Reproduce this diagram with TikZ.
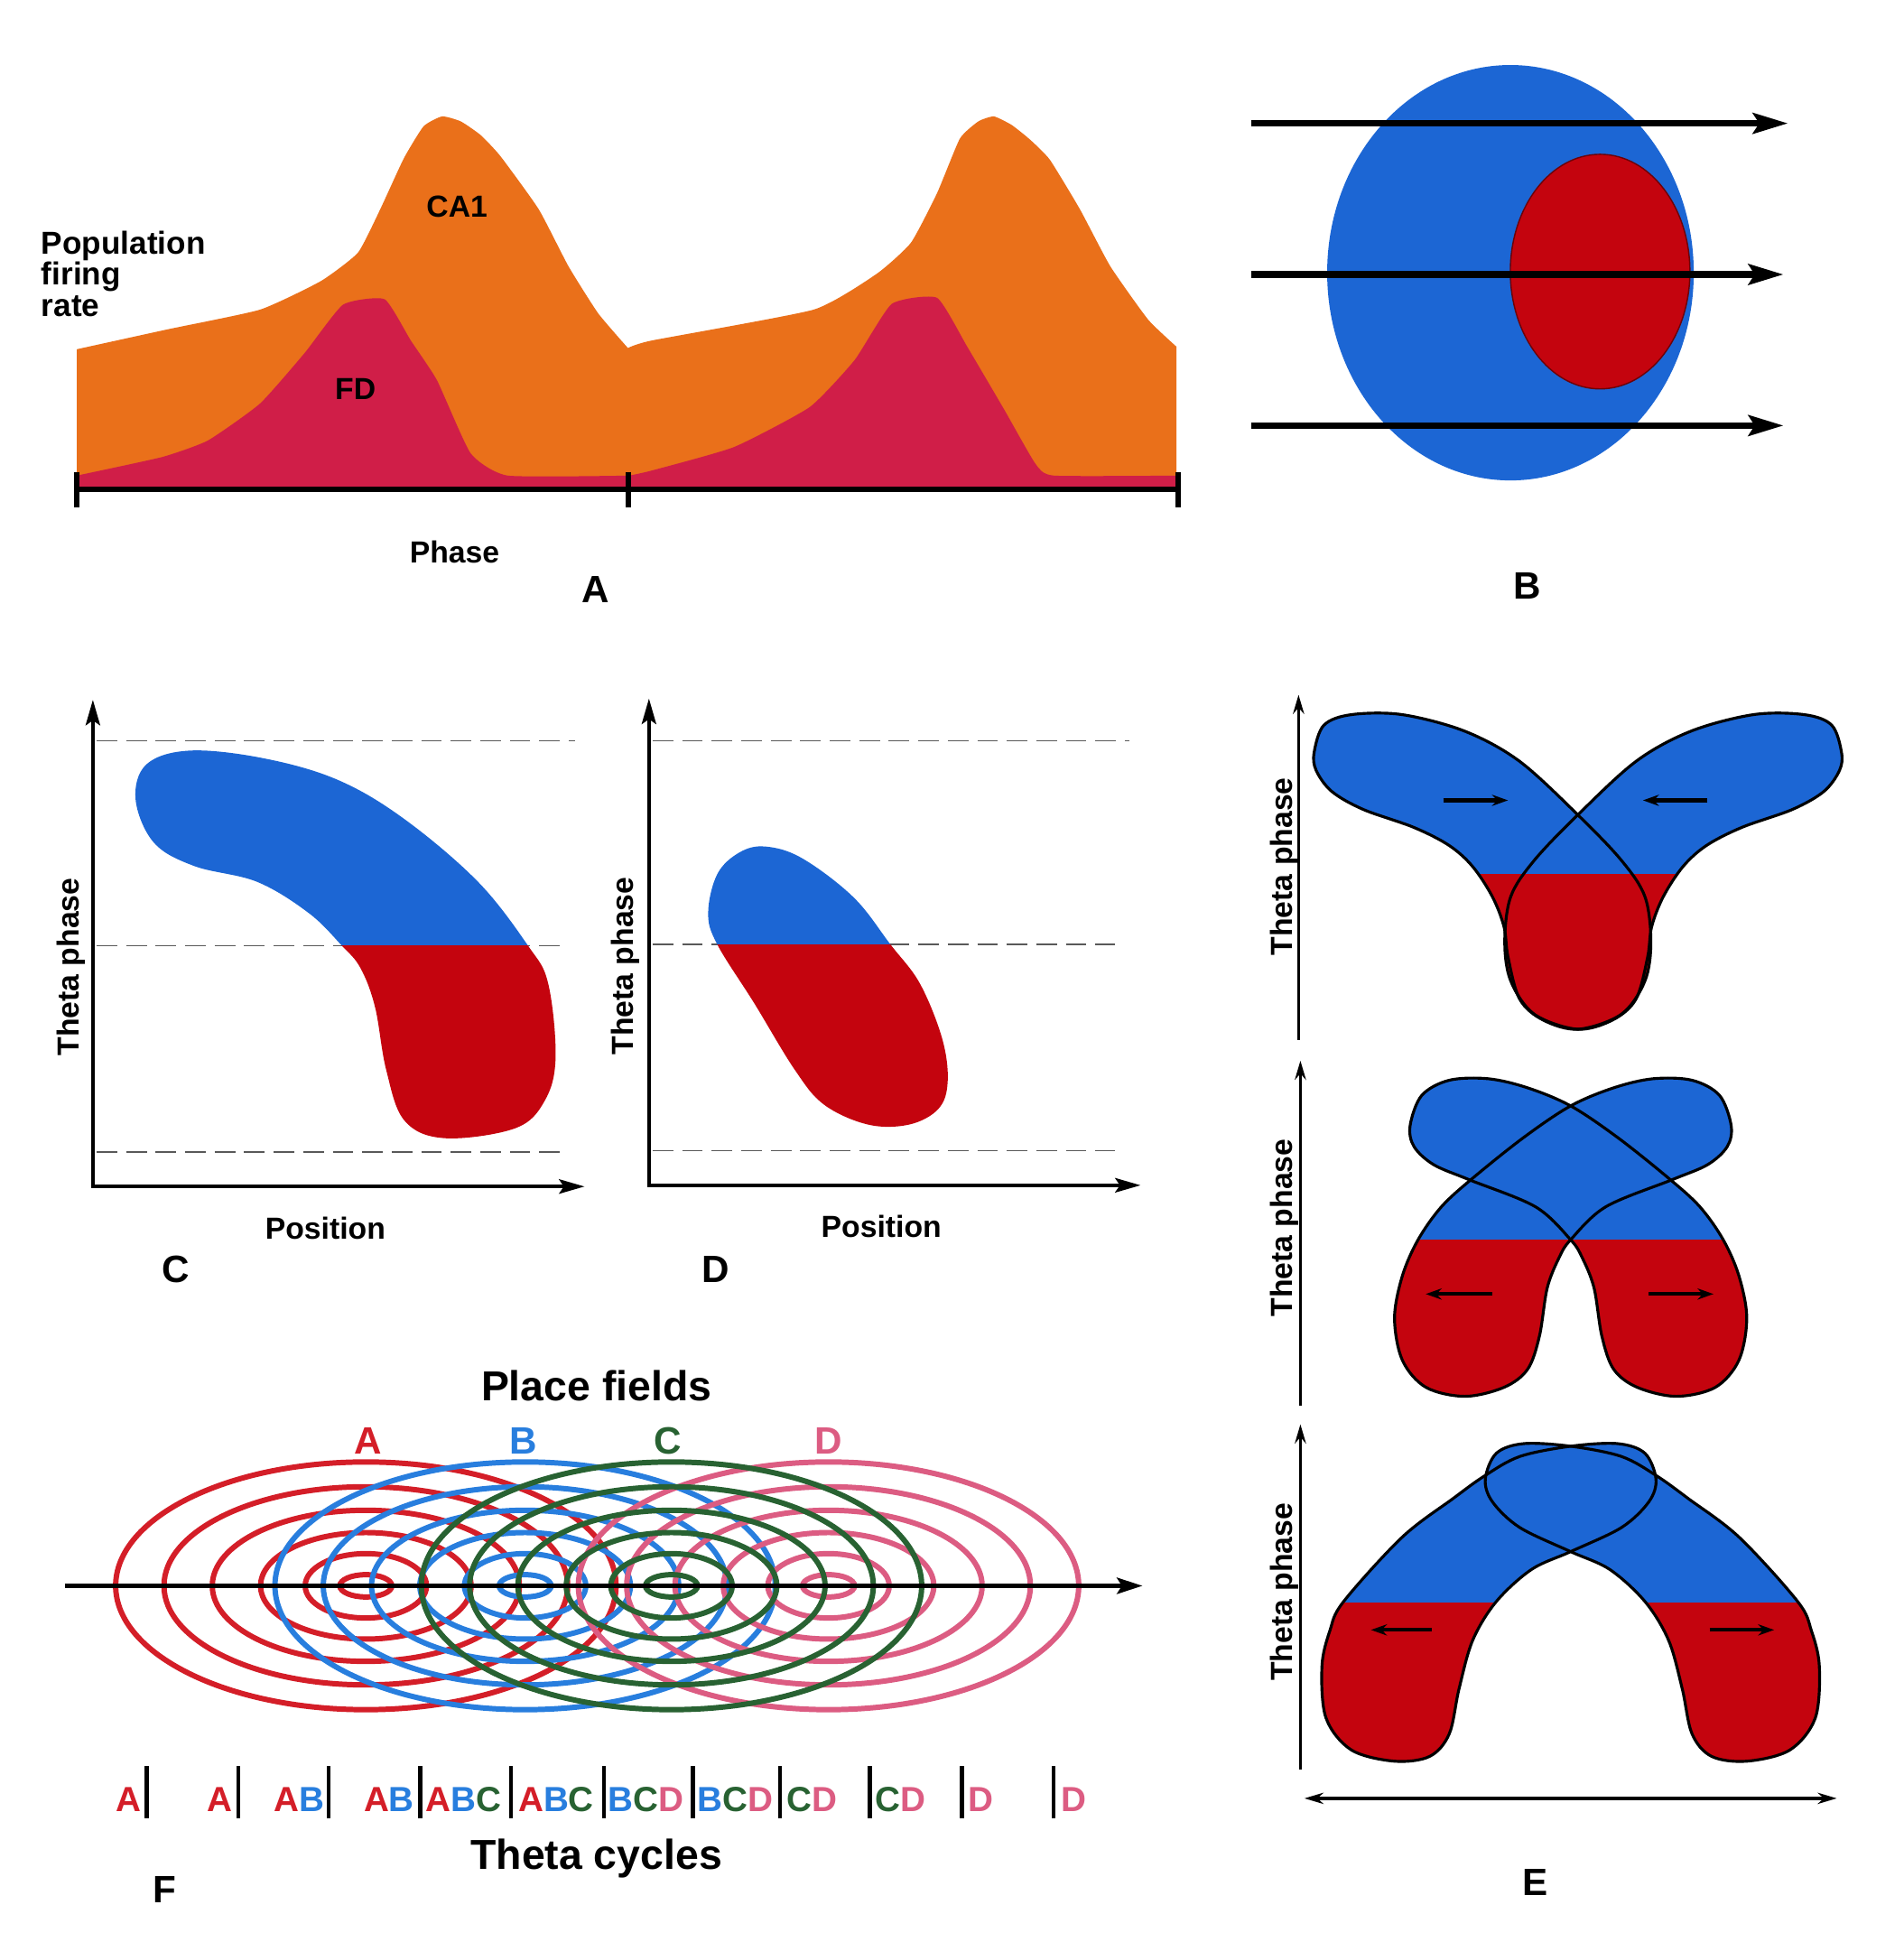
\documentclass[tikz,border=0pt]{standalone}
\usepackage{fontspec}
\setmainfont{Liberation Sans}
\usetikzlibrary{arrows.meta}
\definecolor{caorange}{RGB}{234,112,26}
\definecolor{fdred}{RGB}{208,30,72}
\definecolor{pblue}{RGB}{28,102,212}
\definecolor{pred}{RGB}{196,4,14}
\definecolor{fa}{RGB}{212,30,40}
\definecolor{fb}{RGB}{40,126,222}
\definecolor{fc}{RGB}{40,98,50}
\definecolor{fdp}{RGB}{220,92,130}
\tikzset{
 lbl/.style={font=\fontsize{9.6}{11}\selectfont\bfseries, inner sep=0pt},
 panel/.style={font=\fontsize{12}{14}\selectfont\bfseries, inner sep=0pt},
 big/.style={font=\fontsize{13.2}{15}\selectfont\bfseries, inner sep=0pt},
 cyc/.style={font=\fontsize{11}{13}\selectfont\bfseries, inner sep=0pt},
 axisarrow/.style={line width=1.2pt, -{Stealth[length=8pt,width=4.5pt,inset=1.5pt]}},
 eaxis/.style={line width=1pt, -{Stealth[length=6pt,width=3.5pt]}},
 smallarrow/.style={line width=1.2pt, -{Stealth[length=5pt,width=3.5pt]}},
 trackarrow/.style={line width=2pt, -{Stealth[length=11pt,width=6.5pt,inset=2pt]}},
 dashline/.style={gray!70!black, line width=0.45pt, dash pattern=on 6.5pt off 2.8pt},
 blobline/.style={draw=black, line width=0.9pt},
 ring/.style={line width=1.7pt},
}
\newcommand{\blobC}{plot[smooth cycle, tension=0.6] coordinates {(109.5,645.6)(118.4,617)(154,606)(213.6,612.4)(273,629.8)(326.6,661.4)(386,712)(426.3,763.5)(442.6,794)(448.6,854)(439.7,889)(415.9,911)(359.3,919)(326.6,904.8)(311.8,863.7)(302.8,813)(291,781.5)(276,763.5)(249.3,737.2)(207.6,712)(157,699.3)(124.3,680.4)}}
\newcommand{\blobD}{plot[smooth cycle, tension=0.6] coordinates {(571.8,737.2)(579.2,705.7)(597,688.3)(618,683.5)(647.7,693)(689.3,724.6)(719,762.6)(742.8,794.2)(760.7,838.4)(765.2,873.2)(757.7,895.3)(734,908)(701,908)(665.5,892)(641.7,863.7)(609,810)(579.2,762.6)}}
\newcommand{\blobEa}{plot[smooth cycle, tension=0.55] coordinates {(1061.1,607.4)(1069,585.5)(1091.2,577)(1132.2,577)(1182.8,590.4)(1227,614.7)(1274.5,658.4)(1309.3,694.8)(1328.2,724)(1333,760.5)(1328.2,792)(1309.3,818.8)(1274.5,831)(1246,823.6)(1227,806.6)(1217.6,772.6)(1214.4,748.3)(1205,724)(1189.1,699.7)(1170.2,682.7)(1141.7,668.1)(1100.6,653.5)(1075.3,639)(1062.7,622)}}
\newcommand{\blobEb}{plot[smooth cycle, tension=0.55] coordinates {(1138.6,908.7)(1148,884.4)(1170.2,872.2)(1201.8,871)(1233.4,878.3)(1268.2,892.9)(1306.1,918.4)(1347.2,951.2)(1372.5,974.3)(1391.4,1001)(1404.1,1030.2)(1410.4,1064.2)(1404.1,1098.2)(1385.1,1120.1)(1353.5,1127.4)(1321.9,1120.1)(1302.9,1105.5)(1293.4,1078.8)(1287.1,1039.9)(1277.6,1015.6)(1268.2,1001)(1239.7,974.3)(1186,952.4)(1157.5,940.3)(1141.7,925.7)}}
\newcommand{\blobEc}{plot[smooth cycle, tension=0.55] coordinates {(1084.8,1293.2)(1132.2,1241.1)(1173.3,1209.9)(1198.6,1191.7)(1227.1,1176)(1268.2,1167.7)(1306.1,1165.6)(1328.2,1173.4)(1337.1,1194.3)(1331.4,1212.5)(1309.3,1233.3)(1268.2,1252.8)(1236.6,1267.2)(1208.1,1293.2)(1189.1,1324.4)(1178.1,1363.5)(1170.2,1399.9)(1154.4,1418.1)(1125.9,1422)(1091.1,1412.9)(1070.6,1386.9)(1067.4,1345.2)(1073.8,1316.6)}}
\begin{document}
\begin{tikzpicture}[x=0.013722cm, y=-0.013722cm]
\useasboundingbox (0,0) rectangle (1537,1568);
\fill[white] (0,0) rectangle (1537,1568);

% ---------- Panel A ----------
\fill[caorange] (62,395) -- (62,282) -- plot[smooth,tension=0.3] coordinates {(62,282)(135,266)(210,250)(259,227)(289,204)(307,169)(326,128)(342,102)(357,94)(372,98)(388,109)(404,126)(435,169)(459,215)(483,253)(507,281)} -- plot[smooth,tension=0.3] coordinates {(507,281)(526,275)(657,250)(708,221)(735.5,196)(756.6,156)(775,112)(790,98)(802.5,94)(817,101)(832,113)(847.7,129)(872,169)(896.5,215)(927,258)(950,280)} -- (950,395) -- cycle;
\fill[fdred] (62,395) -- plot[smooth,tension=0.3] coordinates {(62,384)(131,369)(168,355.6)(210,325.8)(246,285)(277,246)(310.5,241.6)(331.6,274.8)(352.8,307)(380,366)(410,384)(508,384)} -- plot[smooth,tension=0.3] coordinates {(508,384)(526,380)(592.6,361)(653.8,328.7)(690,290.8)(720,245.4)(756.6,240.5)(781,280)(811,331)(836,374.4)(851,384)(950,384)} -- (950,395) -- cycle;
\coordinate (a0) at (62,395);
\coordinate (a2) at (951,395);
\draw[line width=1.6pt] (a0) -- (a2);
\draw[line width=1.7pt] (62,381) -- (62,410);
\draw[line width=1.7pt] (507,381) -- (507,410);
\draw[line width=1.7pt] (951,381) -- (951,410);
\node[font=\fontsize{10}{9.8}\selectfont\bfseries, inner sep=0pt, align=left, anchor=north west] (poprate) at (33,186) {Population\\firing\\rate};
\node[lbl] (ca1) at (369,167) {CA1};
\node[lbl] (fd) at (287,314) {FD};
\node[lbl] (phase) at (367,446) {Phase};
\node[panel] (labA) at (481,476) {A};

% ---------- Panel B ----------
\fill[pblue] (1219.6,220.2) ellipse [x radius=148, y radius=167.7];
\filldraw[fill=pred, draw=pred!55!black, line width=0.4pt] (1292,219.3) ellipse [x radius=72.5, y radius=94.7];
\coordinate (b1s) at (1010,99.6);  \coordinate (b1e) at (1443.6,99.6);
\coordinate (b2s) at (1010,221.6); \coordinate (b2e) at (1440,221.6);
\coordinate (b3s) at (1010,343.6); \coordinate (b3e) at (1440,343.6);
\draw[trackarrow] (b1s) -- (b1e);
\draw[trackarrow] (b2s) -- (b2e);
\draw[trackarrow] (b3s) -- (b3e);
\node[panel] (labB) at (1233,473) {B};

% ---------- Panel C ----------
\draw[dashline] (78,598) -- (464,598);
\draw[dashline] (78,763.5) -- (452,763.5);
\draw[dashline] (78,930) -- (452,930);
\begin{scope}\clip (80,560) rectangle (470,763.5); \fill[pblue] \blobC; \end{scope}
\begin{scope}\clip (80,763.5) rectangle (470,950); \fill[pred] \blobC; \end{scope}
\coordinate (cO) at (75,958); \coordinate (cY) at (75,565); \coordinate (cX) at (472,958);
\draw[axisarrow] (cO) -- (cY);
\draw[axisarrow] ([xshift=-0.6pt]cO) -- (cX);
\node[lbl, rotate=90] (cth) at (57.5,780.7) {Theta phase};
\node[lbl] (cpos) at (262.7,991.7) {Position};
\node[panel] (labC) at (142,1025) {C};

% ---------- Panel D ----------
\draw[dashline] (527,598) -- (912,598);
\draw[dashline] (527,762.6) -- (900,762.6);
\draw[dashline] (527,929) -- (900,929);
\begin{scope}\clip (530,560) rectangle (930,762.6); \fill[pblue] \blobD; \end{scope}
\begin{scope}\clip (530,762.6) rectangle (930,950); \fill[pred] \blobD; \end{scope}
\coordinate (dO) at (524,957); \coordinate (dY) at (524,564); \coordinate (dX) at (921,957);
\draw[axisarrow] (dO) -- (dY);
\draw[axisarrow] ([xshift=-0.6pt]dO) -- (dX);
\node[lbl, rotate=90] (dth) at (504.9,780) {Theta phase};
\node[lbl] (dpos) at (711.6,990) {Position};
\node[panel] (labD) at (577.8,1025) {D};

% ---------- Panel E (top) ----------
\foreach \m in {0,1}{
 \begin{scope}[shift={(2*\m*1274,0)}, xscale=1-2*\m]
  \begin{scope}\clip (1000,560) rectangle (1550,705.8); \fill[pblue] \blobEa; \end{scope}
  \begin{scope}\clip (1000,705.8) rectangle (1550,850); \fill[pred] \blobEa; \end{scope}
 \end{scope}
}
\foreach \m in {0,1}{
 \begin{scope}[shift={(2*\m*1274,0)}, xscale=1-2*\m]
  \draw[blobline] \blobEa;
 \end{scope}
}
\coordinate (e1b) at (1048.5,839.4); \coordinate (e1t) at (1048.5,561);
\draw[eaxis] (e1b) -- (e1t);
\coordinate (e1a) at (1165.4,646.2); \coordinate (e1b2) at (1217.6,646.2);
\coordinate (e1c) at (1378.8,646.2); \coordinate (e1d) at (1326.6,646.2);
\draw[smallarrow] (e1a) -- (e1b2);
\draw[smallarrow] (e1c) -- (e1d);
\node[lbl, rotate=90] (e1th) at (1037.4,699.7) {Theta phase};

% ---------- Panel E (middle) ----------
\foreach \m in {0,1}{
 \begin{scope}[shift={(2*\m*1268.2,0)}, xscale=1-2*\m]
  \begin{scope}\clip (1000,850) rectangle (1550,1001); \fill[pblue] \blobEb; \end{scope}
  \begin{scope}\clip (1000,1001) rectangle (1550,1140); \fill[pred] \blobEb; \end{scope}
 \end{scope}
}
\foreach \m in {0,1}{
 \begin{scope}[shift={(2*\m*1268.2,0)}, xscale=1-2*\m]
  \draw[blobline] \blobEb;
 \end{scope}
}
\coordinate (e2b) at (1050,1134.7); \coordinate (e2t) at (1050,856.4);
\draw[eaxis] (e2b) -- (e2t);
\coordinate (e2a) at (1204.9,1044.8); \coordinate (e2b2) at (1151.2,1044.8);
\coordinate (e2c) at (1331.4,1044.8); \coordinate (e2d) at (1383.5,1044.8);
\draw[smallarrow] (e2a) -- (e2b2);
\draw[smallarrow] (e2c) -- (e2d);
\node[lbl, rotate=90] (e2th) at (1037.4,991.3) {Theta phase};

% ---------- Panel E (bottom) ----------
\foreach \m in {0,1}{
 \begin{scope}[shift={(2*\m*1268.2,0)}, xscale=1-2*\m]
  \begin{scope}\clip (1000,1140) rectangle (1550,1294.5); \fill[pblue] \blobEc; \end{scope}
  \begin{scope}\clip (1000,1294.5) rectangle (1550,1440); \fill[pred] \blobEc; \end{scope}
 \end{scope}
}
\foreach \m in {0,1}{
 \begin{scope}[shift={(2*\m*1268.2,0)}, xscale=1-2*\m]
  \draw[blobline] \blobEc;
 \end{scope}
}
\coordinate (e3b) at (1050,1428.5); \coordinate (e3t) at (1050,1150);
\draw[eaxis] (e3b) -- (e3t);
\coordinate (e3a) at (1156,1316); \coordinate (e3b2) at (1107,1316);
\coordinate (e3c) at (1380.4,1316); \coordinate (e3d) at (1432.5,1316);
\draw[smallarrow] (e3a) -- (e3b2);
\draw[smallarrow] (e3c) -- (e3d);
\node[lbl, rotate=90] (e3th) at (1037.4,1285.4) {Theta phase};
\coordinate (exl) at (1053.2,1452); \coordinate (exr) at (1483.1,1452);
\draw[line width=1pt, {Stealth[length=6pt,width=3.5pt]}-{Stealth[length=6pt,width=3.5pt]}] (exl) -- (exr);
\node[panel] (labE) at (1239.7,1519.6) {E};

% ---------- Panel F ----------
\node[big] (placef) at (481.6,1118.8) {Place fields};
\node[panel, text=fa] (pfA) at (297.2,1163.5) {A};
\node[panel, text=fb] (pfB) at (422.8,1163.5) {B};
\node[panel, text=fc] (pfC) at (539.3,1163.5) {C};
\node[panel, text=fdp] (pfD) at (669,1163.5) {D};
\foreach \cx/\col in {295.4/fa, 424/fb, 669/fdp, 542.2/fc}{
 \foreach \rx/\ry in {202/100,163/80,124/61,85/43,49/26,21/9}{
  \draw[ring, \col] (\cx,1280.4) ellipse [x radius=\rx, y radius=\ry];
 }
}
\coordinate (fxl) at (52.2,1280.4); \coordinate (fxr) at (922.6,1280.4);
\draw[line width=1.6pt, -{Stealth[length=8pt,width=5pt,inset=1.5pt]}] (fxl) -- (fxr);
\foreach \bx in {118.5,192.3,265.5,339.3,412.4,487.4,559.4,629.8,702.4,776.7,850.5}{
 \draw[line width=1.2pt] (\bx,1426) -- (\bx,1468);
}
\node[cyc, anchor=east] (g1) at (114.5,1453) {\textcolor{fa}{A}};
\node[cyc, anchor=east] (g2) at (188,1453) {\textcolor{fa}{A}};
\node[cyc, anchor=east] (g3) at (262.5,1453) {\textcolor{fa}{A}\textcolor{fb}{B}};
\node[cyc, anchor=east] (g4) at (335,1453) {\textcolor{fa}{A}\textcolor{fb}{B}};
\node[cyc, anchor=west] (g5) at (343,1453) {\textcolor{fa}{A}\textcolor{fb}{B}\textcolor{fc}{C}};
\node[cyc, anchor=west] (g6) at (418,1453) {\textcolor{fa}{A}\textcolor{fb}{B}\textcolor{fc}{C}};
\node[cyc, anchor=west] (g7) at (490.5,1453) {\textcolor{fb}{B}\textcolor{fc}{C}\textcolor{fdp}{D}};
\node[cyc, anchor=west] (g8) at (562.5,1453) {\textcolor{fb}{B}\textcolor{fc}{C}\textcolor{fdp}{D}};
\node[cyc, anchor=west] (g9) at (634.5,1453) {\textcolor{fc}{C}\textcolor{fdp}{D}};
\node[cyc, anchor=west] (g10) at (706.5,1453) {\textcolor{fc}{C}\textcolor{fdp}{D}};
\node[cyc, anchor=west] (g11) at (781.5,1453) {\textcolor{fdp}{D}};
\node[cyc, anchor=west] (g12) at (856.5,1453) {\textcolor{fdp}{D}};
\node[big] (thc) at (481.6,1500.3) {Theta cycles};
\node[panel] (labF) at (132.9,1525.8) {F};
\end{tikzpicture}
\end{document}
